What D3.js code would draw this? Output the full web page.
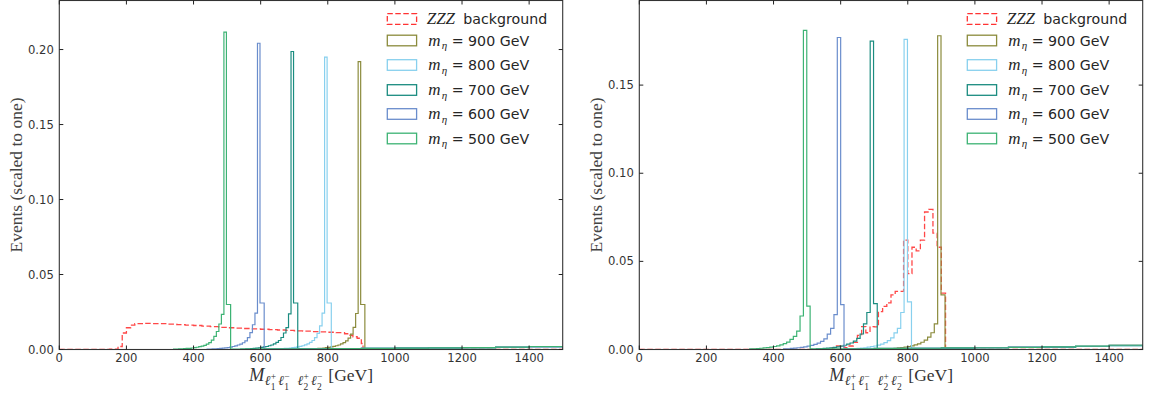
<!DOCTYPE html>
<html><head><meta charset="utf-8">
<script src="https://cdn.jsdelivr.net/npm/d3@7"></script>
<style>body{margin:0;background:#fff}svg{display:block}</style>
</head><body>
<svg id="c" width="1153" height="401"></svg>
<script>
// ---------------- DATA ----------------
const xTicks = [0, 200, 400, 600, 800, 1000, 1200, 1400];
const yTicksLeft = [0, 0.05, 0.10, 0.15, 0.20];
const yTicksRight = [0, 0.05, 0.10, 0.15];
const masses = [900, 800, 700, 600, 500];
const massLabels = ["= 900 GeV", "= 800 GeV", "= 700 GeV", "= 600 GeV", "= 500 GeV"];
const bgLabel = "background";

// ZZZ background, left panel
const bgLeftEdges = [150,175,187.5,200,212.5,225,250,275,300,325,350,375,400,425,450,475,500,525,550,575,600,625,650,675,700,725,750,775,800,825,850,862.5,875,887.5,900,905];
const bgLeftValues = [0.0003,0.002,0.011,0.0145,0.0163,0.0172,0.0174,0.0173,0.0172,0.0169,0.0166,0.0162,0.016,0.0156,0.0152,0.0148,0.0145,0.0143,0.014,0.0137,0.0135,0.0133,0.013,0.0127,0.0124,0.0122,0.0119,0.0117,0.0115,0.0112,0.0105,0.0095,0.0085,0.0075,0.004];
// ZZZ background, right panel
const bgRightEdges = [575,587.5,600,612.5,625,637.5,650,662.5,675,687.5,700,712.5,725,737.5,750,762.5,775,787.5,800,812.5,825,837.5,850,862.5,875,887.5,900,912.5];
const bgRightValues = [0.001,0.002,0.0015,0.001,0.002,0.004,0.008,0.013,0.0095,0.013,0.0128,0.0215,0.0245,0.0265,0.031,0.033,0.033,0.062,0.043,0.058,0.056,0.062,0.078,0.0795,0.066,0.058,0.032];

// Signals, left panel (order 900,800,700,600,500)
const leftBinWidth = 7.5;
const leftPeakStart = [890.5, 790.5, 690.5, 590.5, 490.5];
const leftPeakEnd = [898, 798, 698, 598, 498];
const leftShoulderEnd = [910.5, 810.5, 710.5, 610.5, 510.5];
const leftPeak = [0.192, 0.195, 0.1987, 0.2042, 0.2116];
const leftShoulder = [0.030, 0.031, 0.031, 0.031, 0.030];
const leftTail900 = [0.024,0.0148,0.0102,0.0076,0.0058,0.0046,0.0037,0.003,0.0025,0.0021,0.0017,0.0014,0.0012,0.001,0.0008,0.0007,0.0006,0.0005,0.0004,0.0003];
const leftTail800 = [0.0242,0.0158,0.0108,0.0079,0.006,0.0047,0.0038,0.0031,0.0025,0.0021,0.0017,0.0014,0.0012,0.001,0.0008,0.0007,0.0006,0.0005,0.0004,0.0003];
const leftTail700 = [0.0238,0.0146,0.011,0.008,0.006,0.0047,0.0037,0.003,0.0025,0.002,0.0017,0.0014,0.0011,0.0009,0.0008,0.0006,0.0005,0.0004,0.0003,0.0002];
const leftTail600 = [0.0243,0.0165,0.0112,0.0079,0.0058,0.0045,0.0036,0.003,0.0024,0.002,0.0016,0.0013,0.0011,0.0009,0.0007,0.0006,0.0005,0.0004,0.0003,0.0002];
const leftTail500 = [0.0234,0.017,0.012,0.0088,0.0062,0.0046,0.0036,0.0028,0.0023,0.0019,0.0015,0.0012,0.001,0.0008,0.0007,0.0006,0.0005,0.0004,0.0003,0.0002];
const leftHigh900 = [0.0006,0.0009,0.0011,0.0013,0.0015,0.0019];
const leftHigh800 = [0.0005,0.0007,0.0009,0.0011,0.0013,0.0015,0.0018];
const leftHigh700 = [0.0004,0.0006,0.0007,0.0009,0.0011,0.0013,0.0015,0.0019];
const leftHigh600 = [0.0004,0.0005,0.0006,0.0008,0.001,0.0011,0.0013,0.0016,0.0019];
const leftHigh500 = [0.0003,0.0004,0.0005,0.0006,0.0008,0.0009,0.0011,0.0013,0.0016,0.002];

// Signals, right panel
const rightBinWidth = 10;
const rightPeakStart = [889, 789, 688, 590, 489];
const rightPeakEnd = [899, 799, 698, 600, 499];
const rightShoulderEnd = [911, 811, 709, 610, 509];
const rightPeak = [0.178, 0.176, 0.175, 0.177, 0.181];
const rightShoulder = [0.031, 0.027, 0.026, 0.0255, 0.0246];
const rightTail900 = [0.0145,0.0095,0.007,0.0053,0.0041,0.0032,0.0026,0.0021,0.0017,0.0014,0.0011,0.0009,0.0007,0.0005,0.0004,0.0003];
const rightTail800 = [0.021,0.012,0.0094,0.0066,0.005,0.0039,0.0031,0.0025,0.002,0.0016,0.0013,0.001,0.0008,0.0006,0.0004,0.0003];
const rightTail700 = [0.021,0.0145,0.0088,0.0063,0.0048,0.0037,0.003,0.0024,0.0019,0.0015,0.0012,0.001,0.0008,0.0006,0.0004,0.0003];
const rightTail600 = [0.0198,0.012,0.0087,0.006,0.0046,0.0036,0.0029,0.0023,0.0019,0.0015,0.0012,0.001,0.0008,0.0006,0.0004,0.0003];
const rightTail500 = [0.019,0.0104,0.0075,0.0057,0.0042,0.0033,0.0026,0.0021,0.0017,0.0014,0.0011,0.0009,0.0007,0.0005,0.0004,0.0003];
const rightHigh900 = [0.0007,0.001,0.0012,0.0015,0.0018,0.0023];
const rightHigh800 = [0.0006,0.0008,0.001,0.0012,0.0015,0.0018,0.0022];
const rightHigh700 = [0.0005,0.0007,0.0008,0.001,0.0012,0.0014,0.0017,0.0022];
const rightHigh600 = [0.0004,0.0006,0.0007,0.0009,0.0011,0.0013,0.0015,0.0018,0.0023];
const rightHigh500 = [0.0003,0.0004,0.0006,0.0007,0.0009,0.001,0.0012,0.0015,0.0019,0.0024];

// ---------------- STYLE ----------------
const colors = ["#8b8b3c", "#88d0ee", "#1b8c80", "#6a8dcc", "#3db374"];
const bgColor = "#f33";
const serif = "'Liberation Serif','DejaVu Serif',serif";
const sans = "'DejaVu Sans',sans-serif";

const svg = d3.select("#c");
svg.append("rect").attr("width",1153).attr("height",401).attr("fill","#fff");

function binsFromEdges(edges, values){
  return values.map((v,i)=>[edges[i],edges[i+1],v]);
}
function signalBins(tail,w,pS,pE,peak,sE,sh,high){
  const bins=[];
  for(let i=tail.length-1;i>=0;i--){const x1=pS-i*w;bins.push([x1-w,x1,tail[i]]);}
  bins.push([pS,pE,peak]);bins.push([pE,sE,sh]);
  let a=sE,b=Math.ceil(sE/100)*100; if(b===a)b+=100;
  for(const v of high){bins.push([a,Math.min(b,1500),v]);a=b;b+=100;}
  return bins;
}
function stepPoints(bins){
  const pts=[[0,0]];let cur=0;
  for(const [a,b,v] of bins){ if(a>cur) pts.push([a,0]);
    pts.push([a,v]);pts.push([b,v]);cur=b;}
  pts.push([cur,0]); if(cur<1500) pts.push([1500,0]);
  return pts;
}

const panels = [
  {x0:59.3,x1:562.7,ymax:0.2327,yTicks:yTicksLeft,bg:binsFromEdges(bgLeftEdges,bgLeftValues),
   sig:[
    signalBins(leftTail900,leftBinWidth,leftPeakStart[0],leftPeakEnd[0],leftPeak[0],leftShoulderEnd[0],leftShoulder[0],leftHigh900),
    signalBins(leftTail800,leftBinWidth,leftPeakStart[1],leftPeakEnd[1],leftPeak[1],leftShoulderEnd[1],leftShoulder[1],leftHigh800),
    signalBins(leftTail700,leftBinWidth,leftPeakStart[2],leftPeakEnd[2],leftPeak[2],leftShoulderEnd[2],leftShoulder[2],leftHigh700),
    signalBins(leftTail600,leftBinWidth,leftPeakStart[3],leftPeakEnd[3],leftPeak[3],leftShoulderEnd[3],leftShoulder[3],leftHigh600),
    signalBins(leftTail500,leftBinWidth,leftPeakStart[4],leftPeakEnd[4],leftPeak[4],leftShoulderEnd[4],leftShoulder[4],leftHigh500)]},
  {x0:639.3,x1:1142.7,ymax:0.198,yTicks:yTicksRight,bg:binsFromEdges(bgRightEdges,bgRightValues),
   sig:[
    signalBins(rightTail900,rightBinWidth,rightPeakStart[0],rightPeakEnd[0],rightPeak[0],rightShoulderEnd[0],rightShoulder[0],rightHigh900),
    signalBins(rightTail800,rightBinWidth,rightPeakStart[1],rightPeakEnd[1],rightPeak[1],rightShoulderEnd[1],rightShoulder[1],rightHigh800),
    signalBins(rightTail700,rightBinWidth,rightPeakStart[2],rightPeakEnd[2],rightPeak[2],rightShoulderEnd[2],rightShoulder[2],rightHigh700),
    signalBins(rightTail600,rightBinWidth,rightPeakStart[3],rightPeakEnd[3],rightPeak[3],rightShoulderEnd[3],rightShoulder[3],rightHigh600),
    signalBins(rightTail500,rightBinWidth,rightPeakStart[4],rightPeakEnd[4],rightPeak[4],rightShoulderEnd[4],rightShoulder[4],rightHigh500)]}
];

const plotTop=0.5,plotBottom=349.5;
const legendRows=[19,40.5,65,90,114,138.5];

panels.forEach((p,pi)=>{
  const x=d3.scaleLinear().domain([0,1500]).range([p.x0,p.x1]);
  const y=d3.scaleLinear().domain([0,p.ymax]).range([plotBottom,plotTop]);
  const g=svg.append("g");
  const cid="clip"+pi;
  svg.append("clipPath").attr("id",cid).append("rect").attr("x",p.x0).attr("y",plotTop).attr("width",p.x1-p.x0).attr("height",plotBottom-plotTop);
  const line=d3.line().x(d=>x(d[0])).y(d=>y(d[1]));
  const plot=g.append("g").attr("clip-path",`url(#${cid})`);
  plot.append("path").attr("d",line(stepPoints(p.bg))).attr("fill","none").attr("stroke",bgColor)
    .attr("stroke-width",1.3).attr("stroke-dasharray","5.5,2.5").attr("opacity",0.9);
  p.sig.forEach((bins,i)=>{
    plot.append("path").attr("d",line(stepPoints(bins))).attr("fill","none").attr("stroke",colors[i])
      .attr("stroke-width",1.2).attr("stroke-linejoin","miter");
  });
  g.append("rect").attr("x",p.x0).attr("y",plotTop).attr("width",p.x1-p.x0).attr("height",plotBottom-plotTop)
    .attr("fill","none").attr("stroke","#333").attr("stroke-width",1.1);
  const tk=g.append("g").attr("stroke","#222").attr("stroke-width",1);
  xTicks.forEach(t=>{
    tk.append("line").attr("x1",x(t)).attr("x2",x(t)).attr("y1",plotBottom).attr("y2",plotBottom-4);
    tk.append("line").attr("x1",x(t)).attr("x2",x(t)).attr("y1",plotTop).attr("y2",plotTop+4);
    g.append("text").attr("x",x(t)).attr("y",plotBottom+12).attr("text-anchor","middle")
      .style("font-family",sans).style("font-size","11.6px").attr("fill","#333").text(d3.format("d")(t));
  });
  p.yTicks.forEach(t=>{
    tk.append("line").attr("x1",p.x0).attr("x2",p.x0+4).attr("y1",y(t)).attr("y2",y(t));
    tk.append("line").attr("x1",p.x1).attr("x2",p.x1-4).attr("y1",y(t)).attr("y2",y(t));
    g.append("text").attr("x",p.x0-5.5).attr("y",y(t)+4).attr("text-anchor","end")
      .style("font-family",sans).style("font-size","11.6px").attr("fill","#333").text(d3.format(".2f")(t));
  });
  g.append("text").attr("transform",`translate(${p.x0-37.7},${(plotTop+plotBottom)/2}) rotate(-90)`)
    .attr("text-anchor","middle").style("font-family",serif).style("font-size","17.5px").attr("fill","#444")
    .text("Events (scaled to one)");
  const grp=g.append("g");let cx=0;
  function put(t,size,dy,italic){const el=grp.append("text").attr("x",cx).attr("y",dy).style("font-family",serif)
    .style("font-size",size+"px").style("font-style",italic?"italic":"normal").attr("fill","#333").text(t);
    return el.node().getComputedTextLength();}
  cx+=put("M",18.5,0,true)+0.5;
  [["+","1"],["\u2212","1"],["+","2"],["\u2212","2"]].forEach((l,i)=>{
    if(i===2)cx+=6;
    cx+=put("\u2113",13.5,4,true)+0.4;
    const w1=put(l[0],9.5,-1.5,false),w2=put(l[1],9.5,8.5,false);
    cx+=Math.max(w1,w2)+2;
  });
  cx+=4;cx+=put("[GeV]",17.5,0,false);
  grp.attr("transform",`translate(${(p.x0+p.x1)/2-cx/2},381)`);
  const lx=p.x1-175.4;
  const lg=g.append("g");
  lg.append("rect").attr("x",lx).attr("y",legendRows[0]-5.3).attr("width",29.3).attr("height",10.6)
    .attr("fill","none").attr("stroke",bgColor).attr("stroke-width",1.3).attr("stroke-dasharray","5.5,2.5");
  lg.append("text").attr("x",lx+39.4).attr("y",legendRows[0]+5).style("font-family",serif).style("font-style","italic")
    .style("font-size","17px").attr("fill","#262626").text("ZZZ");
  lg.append("text").attr("x",lx+76).attr("y",legendRows[0]+5).style("font-family",sans)
    .style("font-size","14.2px").attr("fill","#262626").text(bgLabel);
  masses.forEach((m,i)=>{
    const cy=legendRows[i+1];
    lg.append("rect").attr("x",lx).attr("y",cy-5.3).attr("width",29.3).attr("height",10.6)
      .attr("fill","none").attr("stroke",colors[i]).attr("stroke-width",1.3);
    lg.append("text").attr("x",lx+41).attr("y",cy+5).style("font-family",serif).style("font-style","italic")
      .style("font-size","17px").attr("fill","#262626").text("m");
    lg.append("text").attr("x",lx+54.5).attr("y",cy+8.5).style("font-family",serif).style("font-style","italic")
      .style("font-size","11px").attr("fill","#262626").text("\u03b7");
    lg.append("text").attr("x",lx+64.4).attr("y",cy+5).style("font-family",sans)
      .style("font-size","14.2px").attr("fill","#262626").text(massLabels[i]);
  });
});
</script>
</body></html>
